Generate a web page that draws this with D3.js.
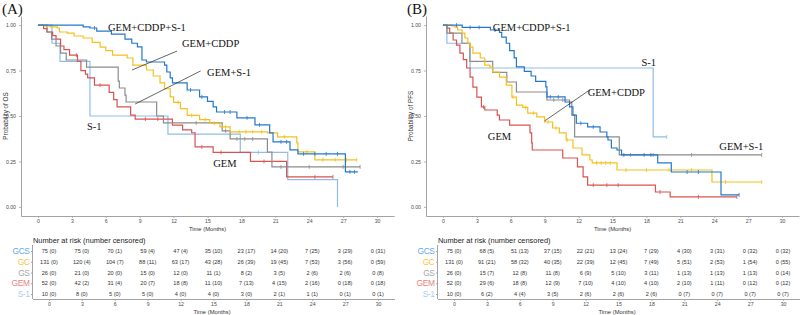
<!DOCTYPE html>
<html>
<head>
<meta charset="utf-8">
<script src="https://cdn.jsdelivr.net/npm/d3@7"></script>
<style>
body { margin: 0; background: #fff; }
svg { display: block; }
</style>
</head>
<body>
<svg id="chart" width="800" height="315"></svg>
<script>
// groups, in risk-table order
const groups = ['GCS', 'GC', 'GS', 'GEM', 'S-1'];
const lineColors = ['#2478cc', '#f4c01e', '#8c8c8c', '#d9534f', '#8fbde9'];
const labelColors = ['#62a9e6', '#f5c842', '#a6a6a6', '#e8837e', '#a9cdf2'];
const timeTicks = [0, 3, 6, 9, 12, 15, 18, 21, 24, 27, 30];
const probTicks = [0, 0.25, 0.5, 0.75, 1];

// (A) overall survival: [months, probability] steps, last point = end of follow-up
const osGCS = [[0,1],[4.0,0.99],[4.6,0.984],[5.2,0.967],[6.5,0.95],[7.7,0.923],[8.3,0.9],[8.8,0.88],[9.2,0.808],[9.6,0.797],[11.2,0.78],[11.4,0.742],[11.7,0.71],[11.9,0.682],[13.2,0.643],[14.3,0.605],[15.0,0.58],[15.5,0.55],[15.8,0.522],[17.6,0.49],[19.2,0.451],[20.5,0.407],[20.8,0.358],[22.3,0.314],[23.0,0.292],[27.2,0.193],[28.3,0.193]];
const osGC = [[0,1],[0.6,0.995],[1.1,0.99],[1.7,0.984],[1.9,0.962],[2.6,0.956],[3.2,0.94],[4.0,0.929],[4.8,0.905],[5.5,0.879],[6.0,0.86],[6.6,0.835],[7.9,0.819],[8.4,0.78],[9.6,0.753],[10.2,0.72],[10.8,0.682],[11.2,0.65],[11.7,0.605],[12.0,0.575],[12.6,0.541],[13.2,0.503],[14.3,0.48],[15.2,0.46],[16.1,0.44],[17.0,0.413],[20.3,0.407],[21.2,0.385],[22.9,0.352],[23.0,0.303],[24.5,0.259],[28.2,0.259]];
const osGS = [[0,1],[0.8,0.962],[1.2,0.923],[1.6,0.885],[2.0,0.846],[2.5,0.808],[4.3,0.769],[7.1,0.692],[7.2,0.654],[7.7,0.615],[7.8,0.577],[10.5,0.5],[11.1,0.462],[16.3,0.418],[17.0,0.374],[20.3,0.302],[20.7,0.22],[28.5,0.22]];
const osGEM = [[0,1],[0.5,0.981],[0.8,0.962],[1.3,0.942],[1.6,0.923],[2.0,0.885],[2.3,0.865],[2.8,0.835],[3.5,0.8],[3.8,0.75],[4.2,0.73],[4.4,0.71],[5.0,0.67],[6.3,0.63],[6.7,0.59],[7.0,0.55],[8.2,0.505],[8.6,0.483],[11.9,0.45],[12.8,0.424],[13.6,0.408],[13.9,0.33],[15.5,0.30],[18.8,0.25],[22.0,0.165],[26.1,0.165]];
const osS1 = [[0,1],[1.24,0.9],[1.95,0.8],[4.6,0.5],[11.5,0.4],[17.9,0.3],[22.1,0.15],[26.5,0]];

// (A) censoring times
const osCensGCS = [5.0, 13.5, 14.5, 16.5, 17.0, 18.5, 19.6, 21.5, 22.0, 23.5, 24.5, 25.5, 26.5, 27.6, 28.0];
const osCensGC = [12.4, 13.6, 14.8, 15.6, 16.6, 17.8, 18.4, 19.0, 19.8, 21.8, 23.8, 25.2, 26.3, 27.3, 28.2];
const osCensGS = [14.0, 16.6, 17.6, 18.3, 19.0, 21.5, 24.0, 27.0, 28.5];
const osCensGEM = [3.4, 5.5, 9.5, 10.6, 14.5, 16.2, 20.0, 24.5, 26.1];
const osCensS1 = [19.5];

// (B) progression-free survival
const pfsGCS = [[0,1],[1.7,0.987],[4.2,0.973],[5.0,0.96],[5.2,0.934],[5.6,0.90],[5.9,0.86],[6.3,0.82],[6.5,0.77],[7.2,0.745],[7.8,0.72],[8.2,0.69],[9.1,0.66],[9.2,0.605],[10.8,0.577],[11.2,0.55],[11.5,0.505],[11.8,0.46],[12.8,0.44],[13.9,0.412],[14.5,0.385],[14.6,0.368],[14.9,0.324],[15.4,0.313],[15.8,0.286],[19.0,0.242],[20.2,0.192],[24.6,0.066],[26.2,0.066]];
const pfsGC = [[0,1],[0.8,0.995],[1.06,0.989],[1.3,0.973],[1.7,0.956],[1.94,0.929],[2.2,0.90],[2.4,0.879],[2.65,0.846],[3.3,0.819],[3.7,0.78],[4.15,0.769],[4.4,0.742],[5.0,0.714],[5.6,0.67],[6.1,0.604],[6.5,0.56],[7.06,0.547],[7.5,0.516],[8.3,0.495],[9.0,0.467],[9.7,0.434],[10.3,0.407],[10.9,0.368],[11.5,0.324],[12.3,0.286],[13.0,0.258],[13.2,0.242],[15.4,0.203],[23.8,0.137],[28.2,0.137]];
const pfsGS = [[0,1],[0.35,0.956],[1.68,0.9],[2.38,0.8],[4.4,0.74],[5.65,0.687],[6.5,0.632],[9.2,0.588],[11.2,0.577],[11.4,0.505],[11.65,0.385],[15.6,0.286],[28.2,0.286]];
const pfsGEM = [[0,1],[0.35,0.983],[0.6,0.956],[0.9,0.918],[1.2,0.89],[1.5,0.846],[1.8,0.81],[2.1,0.764],[2.4,0.714],[2.65,0.659],[3.0,0.604],[3.4,0.55],[3.7,0.533],[4.8,0.505],[5.0,0.478],[5.9,0.45],[7.7,0.407],[7.85,0.352],[7.9,0.313],[10.6,0.269],[11.9,0.22],[12.4,0.165],[12.8,0.12],[18.8,0.082],[20.1,0.055],[26.0,0.055]];
const pfsS1 = [[0,1],[0.35,0.9],[2.4,0.764],[18.6,0.385],[19.8,0.385]];

// (B) censoring times
const pfsCensGCS = [1.2, 2.4, 3.2, 4.6, 9.5, 10.2, 12.2, 13.3, 16.0, 17.8, 18.4, 21.6, 22.6, 26.2];
const pfsCensGC = [6.2, 7.3, 8.0, 9.3, 10.0, 11.0, 13.6, 14.0, 14.4, 14.8, 16.2, 18.0, 20.0, 22.0, 25.0, 28.2];
const pfsCensGS = [9.8, 10.6, 16.6, 18.6, 22.0, 28.2];
const pfsCensGEM = [3.6, 13.3, 14.5, 15.5, 19.2, 22.6, 26.0];
const pfsCensS1 = [19.8];

// number at risk (number censored), columns = timeTicks
const riskOS = [
  ['75 (0)','75 (0)','70 (1)','59 (4)','47 (4)','35 (10)','23 (17)','14 (20)','7 (25)','3 (29)','0 (31)'],
  ['131 (0)','120 (4)','104 (7)','88 (11)','63 (17)','43 (28)','26 (39)','19 (45)','7 (53)','3 (56)','0 (59)'],
  ['26 (0)','21 (0)','20 (0)','15 (0)','12 (0)','11 (1)','8 (2)','3 (5)','2 (6)','2 (6)','0 (8)'],
  ['52 (0)','42 (2)','31 (4)','20 (7)','18 (8)','11 (10)','7 (13)','4 (15)','2 (16)','0 (18)','0 (18)'],
  ['10 (0)','8 (0)','5 (0)','5 (0)','4 (0)','4 (0)','3 (0)','2 (1)','1 (1)','0 (1)','0 (1)']
];
const riskPFS = [
  ['75 (0)','68 (5)','51 (13)','37 (15)','22 (21)','13 (24)','7 (29)','4 (30)','3 (31)','0 (32)','0 (32)'],
  ['131 (0)','91 (21)','58 (32)','40 (35)','22 (39)','12 (45)','7 (49)','5 (51)','2 (53)','1 (54)','0 (55)'],
  ['26 (0)','15 (7)','12 (8)','11 (8)','6 (9)','5 (10)','3 (11)','1 (13)','1 (13)','1 (13)','0 (14)'],
  ['52 (0)','29 (6)','18 (8)','12 (9)','7 (10)','4 (10)','4 (10)','2 (10)','1 (11)','0 (12)','0 (12)'],
  ['10 (0)','6 (2)','4 (4)','3 (5)','2 (6)','2 (6)','2 (6)','0 (7)','0 (7)','0 (7)','0 (7)']
];

// curve labels: [text, months, probability] (left edge, vertical centre)
const osLabels = [['GEM+CDDP+S-1',6.2,0.989],['GEM+CDDP',12.74,0.9],['GEM+S-1',14.96,0.742],['S-1',4.34,0.44],['GEM',15.5,0.237]];
const osPointers = [[[12.3,0.857],[8.32,0.753]],[[14.4,0.748],[8.6,0.566]]];
const pfsLabels = [['GEM+CDDP+S-1',4.41,0.989],['S-1',17.56,0.797],['GEM+CDDP',12.8,0.632],['GEM',3.97,0.385],['GEM+S-1',24.45,0.335]];
const pfsPointers = [[[12.97,0.643],[9.0,0.473]]];

const sans = '"Liberation Sans", Arial, sans-serif';
const serif = '"Liberation Serif", "Times New Roman", serif';
const axisColor = '#a3a3a3';
const svg = d3.select('#chart');

function stepValue(curve, t) {
  let s = curve[0][1];
  for (const [ti, si] of curve) {
    if (ti <= t) s = si;
  }
  return s;
}

function styleAxis(g) {
  g.select('.domain').attr('stroke', axisColor).attr('stroke-width', 1);
  g.selectAll('.tick line').attr('stroke', axisColor).attr('stroke-width', 0.8);
  g.selectAll('.tick text')
    .attr('font-family', sans)
    .attr('font-size', 5.2)
    .attr('fill', '#4d4d4d');
}

function drawPanel(p) {
  const g = svg.append('g').attr('transform', `translate(${p.dx},0)`);

  const x = d3.scaleLinear().domain([-1.5, 31.5]).range([21, 394]);
  const y = d3.scaleLinear().domain([-0.05, 1.05]).range([216, 16]);

  // panel tag
  g.append('text')
    .attr('x', 2)
    .attr('y', 14)
    .attr('font-family', serif)
    .attr('font-size', 15)
    .attr('fill', '#111')
    .text(p.tag);

  // axes
  g.append('g')
    .attr('transform', 'translate(0,216)')
    .call(d3.axisBottom(x).tickValues(timeTicks).tickSize(2).tickSizeOuter(0).tickPadding(1.5))
    .call(styleAxis);

  g.append('g')
    .attr('transform', 'translate(21,0)')
    .call(d3.axisLeft(y).tickValues(probTicks).tickFormat(d3.format('.2f')).tickSize(2).tickSizeOuter(0).tickPadding(3))
    .call(styleAxis);

  g.append('text')
    .attr('x', 207.5)
    .attr('y', 229)
    .attr('text-anchor', 'middle')
    .attr('dominant-baseline', 'central')
    .attr('font-family', sans)
    .attr('font-size', 5.8)
    .attr('fill', '#333')
    .text('Time (Months)');

  g.append('text')
    .attr('transform', 'translate(5.5,116) rotate(-90)')
    .attr('text-anchor', 'middle')
    .attr('dominant-baseline', 'central')
    .attr('font-family', sans)
    .attr('font-size', 6.3)
    .attr('fill', '#333')
    .text(p.yTitle);

  // curves
  const line = d3.line()
    .x(d => x(d[0]))
    .y(d => y(d[1]))
    .curve(d3.curveStepAfter);

  // draw in reverse so GCS ends on top
  for (let i = groups.length - 1; i >= 0; i--) {
    g.append('path')
      .datum(p.curves[i])
      .attr('fill', 'none')
      .attr('stroke', lineColors[i])
      .attr('stroke-width', 1.2)
      .attr('d', line);

    g.append('g')
      .selectAll('line')
      .data(p.censors[i])
      .join('line')
      .attr('x1', d => x(d))
      .attr('x2', d => x(d))
      .attr('y1', d => y(stepValue(p.curves[i], d)) - 2)
      .attr('y2', d => y(stepValue(p.curves[i], d)) + 2)
      .attr('stroke', lineColors[i])
      .attr('stroke-width', 0.8);
  }

  // labels + pointers
  g.append('g')
    .selectAll('line')
    .data(p.pointers)
    .join('line')
    .attr('x1', d => x(d[0][0]))
    .attr('y1', d => y(d[0][1]))
    .attr('x2', d => x(d[1][0]))
    .attr('y2', d => y(d[1][1]))
    .attr('stroke', '#222')
    .attr('stroke-width', 0.7);

  g.append('g')
    .selectAll('text')
    .data(p.labels)
    .join('text')
    .attr('x', d => x(d[1]))
    .attr('y', d => y(d[2]))
    .attr('dominant-baseline', 'central')
    .attr('font-family', serif)
    .attr('font-size', 10.5)
    .attr('fill', '#111')
    .text(d => d[0]);

  // risk table
  const tx = d3.scaleLinear().domain([-1.5, 31.5]).range([32.5, 394.5]);
  const ty = d3.scalePoint().domain(groups).range([251, 294]);

  g.append('text')
    .attr('x', 33)
    .attr('y', 240)
    .attr('dominant-baseline', 'central')
    .attr('font-family', sans)
    .attr('font-size', 7.4)
    .attr('fill', '#222')
    .text('Number at risk (number censored)');

  g.append('g')
    .attr('transform', 'translate(0,299)')
    .call(d3.axisBottom(tx).tickValues(timeTicks).tickSize(2).tickSizeOuter(0).tickPadding(1.5))
    .call(styleAxis);

  const tLeft = g.append('g')
    .attr('transform', 'translate(32.5,0)')
    .call(d3.axisLeft(ty).tickSize(1.5).tickSizeOuter(0).tickPadding(1.5));
  tLeft.select('.domain').attr('d', 'M0,245V299').attr('stroke', axisColor);
  tLeft.selectAll('.tick line').attr('stroke', axisColor);
  tLeft.selectAll('.tick text')
    .attr('font-family', sans)
    .attr('font-size', 8.4)
    .attr('letter-spacing', -0.4)
    .attr('fill', (d, i) => labelColors[i]);

  g.append('text')
    .attr('x', 212)
    .attr('y', 312)
    .attr('text-anchor', 'middle')
    .attr('dominant-baseline', 'central')
    .attr('font-family', sans)
    .attr('font-size', 5.8)
    .attr('fill', '#333')
    .text('Time (Months)');

  const rows = g.append('g')
    .selectAll('g')
    .data(p.risk)
    .join('g')
    .attr('transform', (d, i) => `translate(0,${ty(groups[i])})`);

  rows.selectAll('text')
    .data(d => d)
    .join('text')
    .attr('x', (d, j) => tx(timeTicks[j]))
    .attr('text-anchor', 'middle')
    .attr('dominant-baseline', 'central')
    .attr('font-family', sans)
    .attr('font-size', 5.6)
    .attr('fill', '#333')
    .text(d => d);
}

drawPanel({
  dx: 0,
  tag: '(A)',
  yTitle: 'Probability of OS',
  curves: [osGCS, osGC, osGS, osGEM, osS1],
  censors: [osCensGCS, osCensGC, osCensGS, osCensGEM, osCensS1],
  labels: osLabels,
  pointers: osPointers,
  risk: riskOS,
});

drawPanel({
  dx: 405,
  tag: '(B)',
  yTitle: 'Probability of PFS',
  curves: [pfsGCS, pfsGC, pfsGS, pfsGEM, pfsS1],
  censors: [pfsCensGCS, pfsCensGC, pfsCensGS, pfsCensGEM, pfsCensS1],
  labels: pfsLabels,
  pointers: pfsPointers,
  risk: riskPFS,
});
</script>
</body>
</html>
